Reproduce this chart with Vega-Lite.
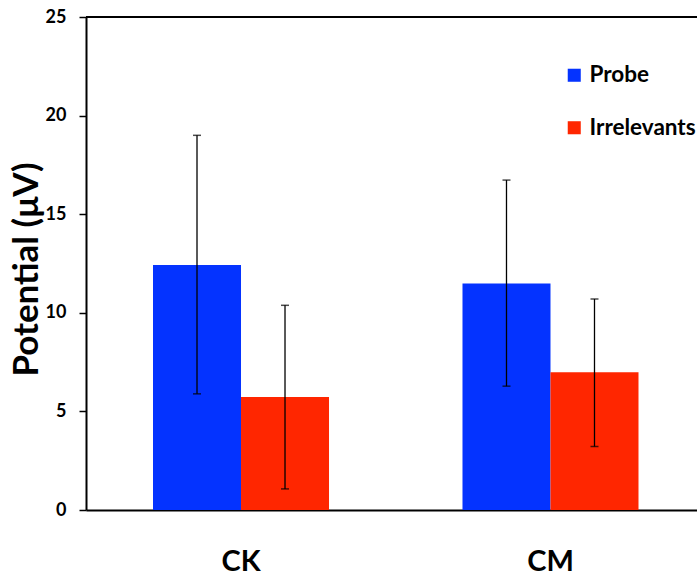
{
  "$schema": "https://vega.github.io/schema/vega-lite/v6.json",
  "autosize": {"type": "none"},
  "padding": {"left": 86, "top": 17, "right": 0, "bottom": 70},
  "width": 611,
  "height": 493,
  "background": "white",
  "config": {
    "view": {"stroke": null},
    "font": "Lato",
    "axis": {"grid": false}
  },
  "data": {
    "values": [
      {"group": "CK", "cond": "Probe", "value": 12.43, "lo": 5.89, "hi": 19.0},
      {"group": "CK", "cond": "Irrelevants", "value": 5.73, "lo": 1.07, "hi": 10.38},
      {"group": "CM", "cond": "Probe", "value": 11.48, "lo": 6.28, "hi": 16.73},
      {"group": "CM", "cond": "Irrelevants", "value": 6.98, "lo": 3.22, "hi": 10.7}
    ]
  },
  "encoding": {
    "x": {
      "field": "group",
      "type": "nominal",
      "scale": {"range": [0, 619.5], "paddingInner": 0.4313, "paddingOuter": 0.2165},
      "axis": {
        "title": null,
        "labelAngle": 0,
        "labelFont": "Lato",
        "labelFontSize": 29,
        "labelFontWeight": "bold",
        "labelColor": "black",
        "labelPadding": 37,
        "ticks": false,
        "domainColor": "black",
        "domainWidth": 2
      }
    },
    "xOffset": {
      "field": "cond",
      "type": "nominal",
      "sort": ["Probe", "Irrelevants"],
      "scale": {"paddingInner": 0, "paddingOuter": 0}
    }
  },
  "layer": [
    {
      "mark": {"type": "bar"},
      "encoding": {
        "y": {
          "field": "value",
          "type": "quantitative",
          "scale": {"domain": [0, 25], "nice": false},
          "axis": {
            "values": [0, 5, 10, 15, 20, 25],
            "title": "Potential (μV)",
            "titleFont": "Lato",
            "titleFontSize": 35,
            "titleFontWeight": "bold",
            "titleColor": "black",
            "titleX": -60,
            "titleY": 252,
            "titleAlign": "center",
            "titleBaseline": "middle",
            "titleAngle": -90,
            "labelFont": "Lato",
            "labelFontSize": 18,
            "labelFontWeight": "bold",
            "labelColor": "black",
            "labelPadding": 13,
            "tickSize": 7,
            "tickColor": "black",
            "tickWidth": 1.5,
            "domainColor": "black",
            "domainWidth": 2
          }
        },
        "color": {
          "field": "cond",
          "type": "nominal",
          "sort": ["Probe", "Irrelevants"],
          "scale": {"domain": ["Probe", "Irrelevants"], "range": ["#0433FF", "#FF2600"]},
          "legend": {
            "title": null,
            "orient": "none",
            "legendX": 477,
            "legendY": 47,
            "padding": 0,
            "symbolType": "square",
            "symbolSize": 170,
            "symbolStrokeWidth": 0,
            "labelFont": "Lato",
            "labelFontSize": 22.5,
            "labelFontWeight": "bold",
            "labelColor": "black",
            "labelOffset": 4,
            "rowPadding": 29.5
          }
        }
      }
    },
    {
      "mark": {"type": "rule", "color": "black", "strokeWidth": 1.3},
      "encoding": {
        "y": {"field": "lo", "type": "quantitative"},
        "y2": {"field": "hi"}
      }
    },
    {
      "mark": {"type": "tick", "color": "black", "size": 8, "thickness": 1.5, "orient": "horizontal"},
      "encoding": {"y": {"field": "lo", "type": "quantitative"}}
    },
    {
      "mark": {"type": "tick", "color": "black", "size": 8, "thickness": 1.5, "orient": "horizontal"},
      "encoding": {"y": {"field": "hi", "type": "quantitative"}}
    },
    {
      "data": {"values": [{"top": 25}]},
      "mark": {"type": "rule", "color": "black", "strokeWidth": 2},
      "encoding": {"y": {"field": "top", "type": "quantitative"}, "x": null, "xOffset": null}
    }
  ]
}
